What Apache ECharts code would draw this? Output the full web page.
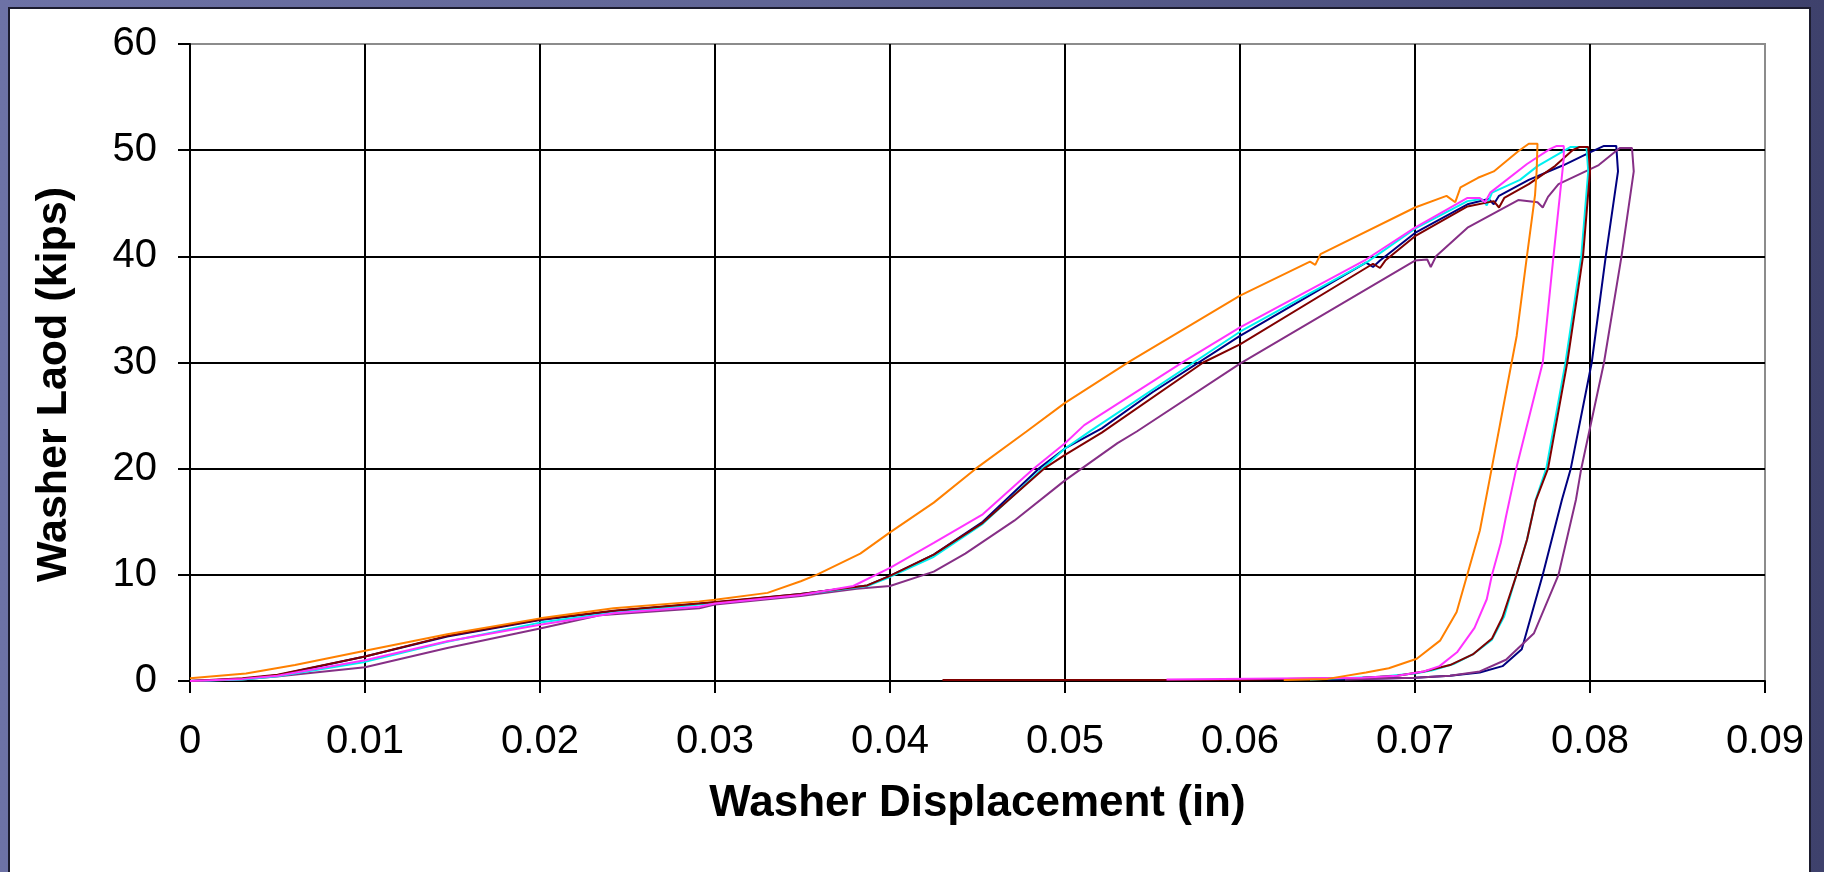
<!DOCTYPE html>
<html>
<head>
<meta charset="utf-8">
<script src="https://cdn.jsdelivr.net/npm/echarts@6/dist/echarts.min.js"></script>
<style>
html,body{margin:0;padding:0;width:1824px;height:872px;overflow:hidden;}
body{background:linear-gradient(90deg,#6d72a6 0%,#5f6494 45%,#4a4e7c 80%,#3e416c 100%);}
#chart{position:absolute;left:0;top:0;width:1824px;height:872px;}
</style>
</head>
<body>
<div id="chart"></div>
<script>
// ---- data ----
const xTickLabels = ['0','0.01','0.02','0.03','0.04','0.05','0.06','0.07','0.08','0.09'];
const yTickLabels = ['0','10','20','30','40','50','60'];
const xTitle = 'Washer Displacement (in)';
const yTitle = 'Washer Laod (kips)';

const seriesNames = ['Navy','Purple','Cyan','DarkRed','Magenta','Orange'];
const seriesColors = ['#000080','#862f86','#00f0f0','#800000','#ff33ff','#ff8000'];

const navy = [[0,0],[0.003,0.2],[0.005,0.55],[0.01,2.3],[0.0147,4.2],[0.02,5.75],[0.0243,6.6],[0.0291,7.3],[0.03,7.4],[0.0349,8.2],[0.0387,9.0],[0.04,9.9],[0.0425,11.9],[0.0453,15.0],[0.0485,20],[0.05,21.9],[0.0521,23.8],[0.055,27.2],[0.06,32.5],[0.0672,39.4],[0.0676,39.0],[0.068,39.6],[0.07,42.2],[0.073,44.9],[0.0742,45.4],[0.0745,44.9],[0.0748,45.7],[0.0765,47.2],[0.0785,48.6],[0.08,49.8],[0.0808,50.4],[0.0815,50.4],
  [0.0816,48],[0.0809,40],[0.0801,30],[0.0789,20],[0.0784,17.1],[0.0773,10],[0.0761,3],[0.075,1.4],[0.0737,0.8],[0.072,0.5],[0.07,0.3],[0.065,0.15]];
const purple = [[0,0],[0.003,0.15],[0.0051,0.45],[0.01,1.3],[0.0147,3.1],[0.02,4.95],[0.0234,6.2],[0.0291,6.85],[0.03,7.2],[0.0349,8.0],[0.0381,8.7],[0.04,8.95],[0.0425,10.3],[0.0443,12.0],[0.0471,15.1],[0.05,18.9],[0.053,22.4],[0.0541,23.5],[0.06,29.9],[0.07,39.6],[0.0707,39.7],[0.0709,39.0],[0.0712,40.0],[0.073,42.7],[0.0759,45.3],[0.077,45.1],[0.0773,44.6],[0.0776,45.6],[0.0782,46.8],[0.0805,48.6],[0.0817,50.2],[0.0824,50.2],
  [0.0825,48],[0.0818,40],[0.0808,30],[0.0795,20],[0.0792,17.1],[0.0782,10],[0.0768,4.5],[0.0752,2],[0.0737,0.9],[0.072,0.5],[0.07,0.3],[0.066,0.15]];
const cyan = [[0,0],[0.003,0.15],[0.005,0.45],[0.01,1.8],[0.0147,3.7],[0.02,5.5],[0.0243,6.45],[0.0291,7.2],[0.03,7.35],[0.0349,8.15],[0.0387,8.95],[0.04,9.8],[0.0425,11.7],[0.0453,14.8],[0.0487,20],[0.05,21.9],[0.0515,23.6],[0.06,32.9],[0.0673,39.5],[0.07,42.6],[0.073,45.2],[0.0738,45.4],[0.0741,44.8],[0.0744,46.0],[0.076,47.2],[0.077,48.5],[0.0789,50.3],[0.0798,50.3],
  [0.0799,48],[0.0795,40],[0.0786,30],[0.0775,20],[0.0769,17.1],[0.0764,13.3],[0.0758,10],[0.0751,6.1],[0.0744,3.9],[0.0733,2.5],[0.0722,1.6],[0.071,1.0],[0.07,0.7],[0.068,0.4],[0.064,0.15]];
const darkred = [[0,0],[0.003,0.25],[0.005,0.6],[0.01,2.3],[0.0147,4.25],[0.02,5.8],[0.0243,6.65],[0.0291,7.3],[0.03,7.45],[0.0349,8.2],[0.0387,9.0],[0.04,9.9],[0.0425,11.9],[0.0453,14.9],[0.0488,20],[0.05,21.3],[0.0521,23.4],[0.0579,30],[0.06,31.7],[0.0676,39.3],[0.068,38.9],[0.0683,39.6],[0.07,41.9],[0.073,44.7],[0.0745,45.2],[0.0748,44.6],[0.0751,45.5],[0.0765,46.8],[0.078,48.5],[0.079,50.0],[0.0794,50.3],[0.0799,50.3],
  [0.08,48],[0.0796,40],[0.0787,30],[0.0776,20],[0.0769,17],[0.0764,13.3],[0.0758,10],[0.075,6.0],[0.0744,4.0],[0.0733,2.5],[0.072,1.5],[0.0705,0.9],[0.069,0.5],[0.067,0.3],[0.06,0.12],[0.043,0.1]];
const magenta = [[0,0],[0.003,0.2],[0.005,0.5],[0.01,1.95],[0.0147,3.75],[0.02,5.3],[0.0243,6.4],[0.0291,7.0],[0.03,7.3],[0.0349,8.1],[0.0379,8.95],[0.04,10.65],[0.0425,13.0],[0.0453,15.7],[0.0482,20],[0.05,22.4],[0.0511,24.1],[0.0568,30.1],[0.06,33.3],[0.0672,39.7],[0.07,42.7],[0.073,45.5],[0.0737,45.5],[0.074,45.1],[0.0743,46.0],[0.0764,48.7],[0.0777,50.1],[0.0781,50.4],[0.0785,50.4],
  [0.0785,49.2],[0.0779,39.8],[0.0773,30],[0.0758,20.1],[0.0752,15.5],[0.0749,13],[0.0744,10],[0.0741,7.7],[0.0734,5.0],[0.0724,2.7],[0.0714,1.4],[0.0705,0.9],[0.069,0.5],[0.067,0.3],[0.0558,0.15]];
const orange = [[0,0.25],[0.0032,0.7],[0.006,1.5],[0.01,2.85],[0.0147,4.4],[0.02,5.9],[0.0242,6.85],[0.0291,7.5],[0.03,7.65],[0.033,8.3],[0.0349,9.4],[0.0358,10],[0.0383,12],[0.04,14],[0.0425,16.8],[0.0449,20],[0.0478,23.5],[0.05,26.2],[0.0537,30.1],[0.06,36.3],[0.064,39.5],[0.0643,39.2],[0.0646,40.2],[0.07,44.6],[0.0718,45.7],[0.0723,45.1],[0.0726,46.5],[0.0736,47.4],[0.0745,48.0],[0.0759,49.9],[0.0765,50.6],[0.077,50.6],
  [0.07695,48],[0.07686,45.8],[0.07638,39.8],[0.07581,32.5],[0.07543,29.2],[0.07486,24.2],[0.07429,19.2],[0.07371,14.2],[0.07295,9.8],[0.07238,6.5],[0.07143,3.8],[0.0701,2.1],[0.0685,1.2],[0.0672,0.8],[0.065,0.2],[0.0625,0.1]];
const seriesData = [navy, purple, cyan, darkred, magenta, orange];

// ---- chart ----
const chart = echarts.init(document.getElementById('chart'), null, {renderer:'canvas'});
const FONT = '"Liberation Sans", Arial, sans-serif';
chart.setOption({
  animation: false,
  backgroundColor: 'transparent',
  graphic: [{
    type: 'rect', left: 8, top: 7, z: -10,
    shape: {width: 1801, height: 900},
    style: {fill: '#ffffff', stroke: '#1b1b2e', lineWidth: 2}
  }],
  grid: {left: 190, right: 59, top: 44, bottom: 191, show: true, borderColor: '#8c8c8c', borderWidth: 2, backgroundColor: '#ffffff'},
  xAxis: {
    type: 'value', min: 0, max: 0.09, interval: 0.01,
    name: xTitle, nameLocation: 'middle', nameGap: 101,
    nameTextStyle: {fontFamily: FONT, fontSize: 44, fontWeight: 'bold', color: '#000'},
    axisLine: {show: true, onZero: false, lineStyle: {color: '#000', width: 2}},
    axisTick: {show: true, inside: false, length: 12, lineStyle: {color: '#000', width: 2}},
    axisLabel: {margin: 41, fontFamily: FONT, fontSize: 40, color: '#000',
      formatter: v => xTickLabels[Math.round(v / 0.01)]},
    splitLine: {show: true, showMaxLine: false, lineStyle: {color: '#000', width: 2}}
  },
  yAxis: {
    type: 'value', min: 0, max: 60, interval: 10,
    name: yTitle, nameLocation: 'middle', nameGap: 114,
    nameTextStyle: {fontFamily: FONT, fontSize: 43, fontWeight: 'bold', color: '#000', padding: [0, 44, 0, 0]},
    axisLine: {show: true, onZero: false, lineStyle: {color: '#000', width: 2}},
    axisTick: {show: true, inside: false, length: 12, lineStyle: {color: '#000', width: 2}},
    axisLabel: {margin: 33, fontFamily: FONT, fontSize: 40, color: '#000',
      formatter: v => yTickLabels[Math.round(v / 10)]},
    splitLine: {show: true, showMaxLine: false, lineStyle: {color: '#000', width: 2}}
  },
  series: seriesData.map((d, i) => ({
    name: seriesNames[i], type: 'line', data: d, showSymbol: false, symbol: 'none',
    clip: true, lineStyle: {color: seriesColors[i], width: 2}, itemStyle: {color: seriesColors[i]}, z: 3 + i
  }))
});
</script>
</body>
</html>
